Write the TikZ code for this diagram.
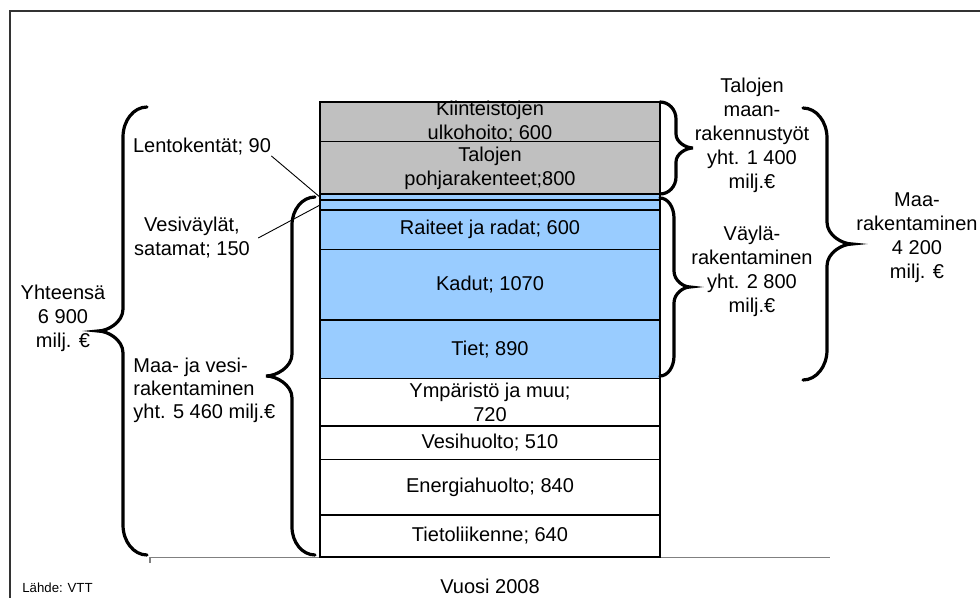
\documentclass[tikz,border=0pt]{standalone}
\usepackage{fontspec}
\setmainfont{Liberation Sans}
\definecolor{segGray}{HTML}{C0C0C0}
\definecolor{segBlue}{HTML}{99CCFF}
\definecolor{frameGray}{HTML}{333333}
\definecolor{axisGray}{HTML}{808080}

% curly brace: end x, spine x, tip x, top y, bottom y, end radius, tip radius
\newcommand\curlybr[7]{%
  \draw[brace] (#1,#4) .. controls ({#1+0.552*(#2-#1)},#4) and (#2,{#4+0.448*#6}) .. (#2,#4+#6)
    -- (#2,{(#4+#5)/2-#7}) .. controls (#2,{(#4+#5)/2-0.4*#7}) and ({#3+0.4*(#2-#3)},{(#4+#5)/2}) .. (#3,{(#4+#5)/2})
    .. controls ({#3+0.4*(#2-#3)},{(#4+#5)/2}) and (#2,{(#4+#5)/2+0.4*#7}) .. (#2,{(#4+#5)/2+#7})
    -- (#2,#5-#6) .. controls (#2,{#5-0.448*#6}) and ({#1+0.552*(#2-#1)},#5) .. (#1,#5);}

\begin{document}
\begin{tikzpicture}[x=0.5pt,y=-0.5pt,
  seg/.style={draw=black, line width=0.7pt, inner sep=0pt, outer sep=0pt,
              minimum width=170pt, anchor=north},
  lbl/.style={align=center, inner sep=1pt, font=\fontsize{10}{12}\selectfont},
  brace/.style={line width=1.6pt, line cap=round},
  leader/.style={line width=0.45pt}]
\useasboundingbox (0,0) rectangle (980,598);

% chart frame
\draw[frameGray, line width=1pt] (10,598) -- (10,11) -- (980,11);

% category axis
\draw[axisGray, line width=0.75pt] (150,563) -- (150,557.5) -- (830,557.5);

% stacked column (heights proportional to the values)
\node[seg, fill=segGray, minimum height=39.5*0.5pt] (s1) at (490,102) {};
\node[seg, fill=segGray, minimum height=52.7*0.5pt] (s2) at (s1.south) {};
\node[seg, fill=segBlue, minimum height=5.9*0.5pt]  (s3) at (s2.south) {};
\node[seg, fill=segBlue, minimum height=9.9*0.5pt]  (s4) at (s3.south) {};
\node[seg, fill=segBlue, minimum height=39.5*0.5pt] (s5) at (s4.south) {};
\node[seg, fill=segBlue, minimum height=70.5*0.5pt] (s6) at (s5.south) {};
\node[seg, fill=segBlue, minimum height=58.6*0.5pt] (s7) at (s6.south) {};
\node[seg, fill=white,   minimum height=47.4*0.5pt] (s8) at (s7.south) {};
\node[seg, fill=white,   minimum height=33.6*0.5pt] (s9) at (s8.south) {};
\node[seg, fill=white,   minimum height=55.3*0.5pt] (s10) at (s9.south) {};
\node[seg, fill=white,   minimum height=42.1*0.5pt] (s11) at (s10.south) {};

% segment labels
\node[lbl] (t1)  at (s1)  {Kiinteistöjen\\ulkohoito; 600};
\node[lbl] (t2)  at (s2)  {Talojen\\pohjarakenteet;800};
\node[lbl] (t5)  at (s5)  {Raiteet ja radat; 600};
\node[lbl] (t6)  at (s6)  {Kadut; 1070};
\node[lbl] (t7)  at (s7)  {Tiet; 890};
\node[lbl] (t8)  at (s8)  {Ympäristö ja muu;\\720};
\node[lbl] (t9)  at (s9)  {Vesihuolto; 510};
\node[lbl] (t10) at (s10) {Energiahuolto; 840};
\node[lbl] (t11) at (s11) {Tietoliikenne; 640};

% labels of the two thin segments, with leader lines
\node[lbl, inner sep=0pt] (lento) at (202,147) {Lentokentät; 90};
\node[lbl, inner sep=4pt] (vesi) at (192,238) {Vesiväylät,\\satamat; 150};
\draw[leader] (lento.south east) -- (s3.west);
\draw[leader] (vesi.east) -- (s4.west);

% left braces and totals
\curlybr{147}{123}{98}{107}{555}{30}{22}
\curlybr{315}{292}{266}{197}{555}{28}{22}
\node[lbl] (total) at (63,318) {Yhteensä\\6 900\\milj. €};
\node[lbl, align=left, anchor=west, inner sep=0pt,
      font=\fontsize{10}{11.5}\selectfont] (maavesi) at (133,390)
      {Maa- ja vesi-\\rakentaminen\\yht. 5 460 milj.€};

% right braces and subtotals
\curlybr{660}{676}{693}{102}{194}{17}{14}
\curlybr{660}{674}{690}{198}{376}{20}{16}
\curlybr{803}{827}{852}{108}{380}{30}{22}
\node[lbl] (talot) at (752,135) {Talojen\\maan-\\rakennustyöt\\yht. 1 400\\milj.€};
\node[lbl] (vayla) at (752,271) {Väylä-\\rakentaminen\\yht. 2 800\\milj.€};
\node[lbl] (maarak) at (917,238) {Maa-\\rakentaminen\\4 200\\milj. €};

% axis caption and source
\node[lbl] (year) at (490,586) {Vuosi 2008};
\node[anchor=west, inner sep=0pt, font=\fontsize{6.6}{8}\selectfont] (source) at (22,588) {Lähde: VTT};
\end{tikzpicture}
\end{document}
